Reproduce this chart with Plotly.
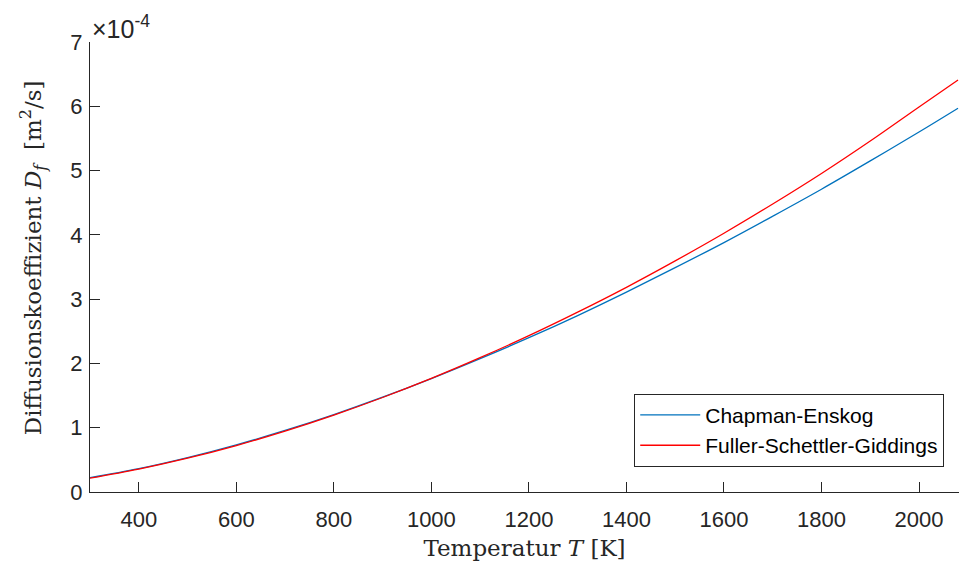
import plotly.graph_objects as go

# Temperature [K]
T = [300, 400, 500, 600, 700, 800, 900, 1000, 1100, 1200, 1300, 1400,
     1500, 1600, 1700, 1800, 1900, 2000, 2080]
# Diffusion coefficient in units of 1e-4 m^2/s
chapman_enskog = [0.222, 0.362, 0.534, 0.733, 0.957, 1.205, 1.475, 1.765, 2.075,
                  2.400, 2.745, 3.110, 3.490, 3.880, 4.290, 4.710, 5.150, 5.600, 5.970]
fuller = [0.215, 0.356, 0.526, 0.723, 0.947, 1.196, 1.470, 1.767, 2.089,
          2.432, 2.798, 3.184, 3.595, 4.025, 4.480, 4.955, 5.460, 5.990, 6.410]
x_ticks = [400, 600, 800, 1000, 1200, 1400, 1600, 1800, 2000]
y_ticks = [0, 1, 2, 3, 4, 5, 6, 7]

axis_col = "#262626"

fig = go.Figure()
fig.add_trace(go.Scatter(x=T, y=chapman_enskog, mode="lines", name="Chapman-Enskog",
                         line=dict(color="#0072BD", width=1.3, shape="spline")))
fig.add_trace(go.Scatter(x=T, y=fuller, mode="lines", name="Fuller-Schettler-Giddings",
                         line=dict(color="#FF0000", width=1.3, shape="spline")))

fig.update_layout(
    width=959, height=563,
    margin=dict(l=90, r=0, t=42, b=71),
    paper_bgcolor="white", plot_bgcolor="white",
    font=dict(family="Liberation Sans, Arial", color=axis_col),
    showlegend=True,
    legend=dict(x=0.983, y=0.056, xanchor="right", yanchor="bottom",
                bordercolor=axis_col, borderwidth=1, bgcolor="white",
                itemwidth=60,
                font=dict(size=21, color="black"), tracegroupgap=0),
    xaxis=dict(range=[300, 2082], tickvals=x_ticks, ticks="inside", ticklen=10,
               tickcolor=axis_col, showline=True, linecolor=axis_col, linewidth=1,
               showgrid=False, zeroline=False, tickfont=dict(size=22, color=axis_col),
               ticklabelstandoff=8,
               title=dict(text="Temperatur <i>T</i> [K]",
                          font=dict(family="DejaVu Serif, serif", size=23, color=axis_col),
                          standoff=8)),
    yaxis=dict(range=[0, 7], tickvals=y_ticks, ticks="inside", ticklen=10,
               tickcolor=axis_col, showline=True, linecolor=axis_col, linewidth=1,
               showgrid=False, zeroline=False, tickfont=dict(size=22, color=axis_col),
               ticklabelstandoff=2),
)

# y-axis title as a rotated annotation (positioned like the reference)
fig.add_annotation(text="Diffusionskoeffizient <i>D<sub>f</sub></i>  [m<sup>2</sup>/s]",
                   xref="paper", yref="paper", x=-0.066, y=0.122,
                   xanchor="center", yanchor="bottom", textangle=-90, showarrow=False,
                   font=dict(family="DejaVu Serif, serif", size=23, color=axis_col))

fig.add_annotation(text="×10<sup>-4</sup>", xref="paper", yref="paper",
                   x=0, y=1, xanchor="left", yanchor="bottom", showarrow=False,
                   font=dict(size=25, color=axis_col), xshift=0, yshift=-3)

fig.write_html("out.html")
